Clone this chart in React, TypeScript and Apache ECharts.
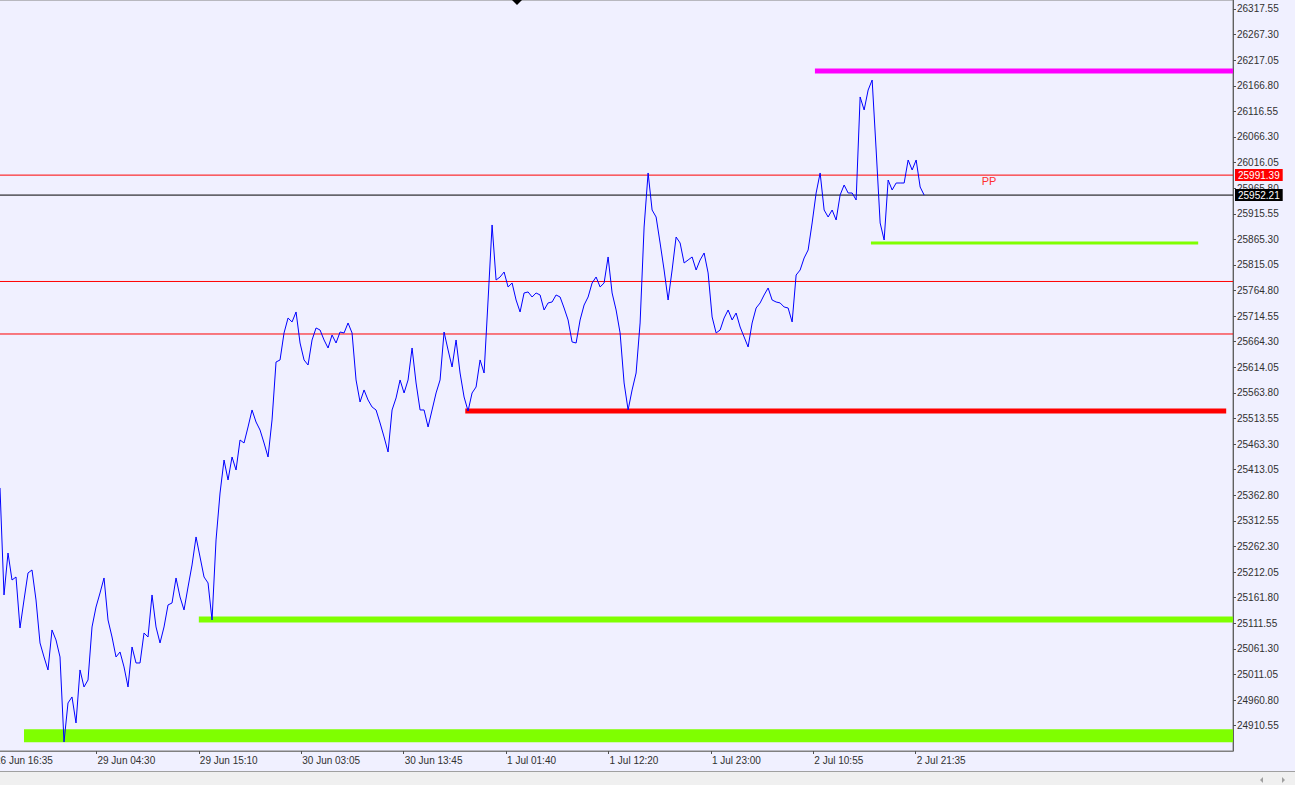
import React, { useEffect, useRef } from "react";
import * as echarts from "echarts";

// Close prices, one sample every 5 bars, starting at bar FIRST_BAR
const PRICES = [
  25377.2, 25167.1, 25249.5, 25196.5, 25202.4, 25102.3, 25157.3, 25210.3, 25216.2, 25157.3,
  25072.9, 25045.4, 25019.9, 25098.4, 25078.8, 25045.4, 24878.5, 24955.1, 24966.9, 24915.8,
  25019.9, 24986.5, 25000.2, 25104.3, 25143.5, 25171.0, 25200.5, 25118.0, 25084.6, 25045.4,
  25055.2, 25025.8, 24986.5, 25065.0, 25033.6, 25033.6, 25092.5, 25084.6, 25167.1, 25104.3,
  25072.9, 25104.3, 25147.5, 25151.4, 25200.5, 25163.2, 25137.7, 25182.8, 25226.0, 25281.0,
  25241.7, 25202.4, 25190.7, 25118.0, 25275.1, 25367.3, 25432.1, 25392.9, 25438.0, 25412.5,
  25471.4, 25465.5, 25496.9, 25530.3, 25506.7, 25491.0, 25465.5, 25438.0, 25510.7, 25624.5,
  25628.5, 25681.5, 25710.9, 25703.1, 25722.7, 25661.8, 25628.5, 25618.6, 25667.7, 25691.3,
  25687.3, 25667.7, 25652.0, 25677.5, 25661.8, 25683.4, 25681.5, 25701.1, 25681.5, 25589.2,
  25546.0, 25569.6, 25549.9, 25536.2, 25530.3, 25504.8, 25477.3, 25447.8, 25530.3, 25553.9,
  25589.2, 25563.7, 25589.2, 25652.0, 25583.3, 25530.3, 25530.3, 25496.9, 25530.3, 25563.7,
  25589.2, 25683.4, 25648.1, 25614.7, 25667.7, 25602.9, 25555.8, 25528.3, 25563.7, 25575.4,
  25628.5, 25602.9, 25746.2, 25893.5, 25785.5, 25791.4, 25801.2, 25771.8, 25779.6, 25746.2,
  25722.7, 25760.0, 25762.0, 25752.1, 25760.0, 25756.1, 25726.6, 25740.4, 25742.3, 25756.1,
  25752.1, 25730.5, 25707.0, 25663.8, 25661.8, 25707.0, 25736.4, 25752.1, 25779.6, 25791.4,
  25771.8, 25779.6, 25830.7, 25760.0, 25726.6, 25681.5, 25583.3, 25530.3, 25569.6, 25602.9,
  25701.1, 25889.5, 25995.6, 25922.9, 25909.2, 25858.1, 25805.1, 25746.2, 25805.1, 25869.9,
  25858.1, 25818.9, 25824.8, 25830.7, 25805.1, 25824.8, 25838.5, 25799.3, 25712.9, 25681.5,
  25687.3, 25710.9, 25726.6, 25707.0, 25720.7, 25693.2, 25673.6, 25654.0, 25701.1, 25730.5,
  25740.4, 25756.1, 25769.8, 25746.2, 25742.3, 25740.4, 25732.5, 25730.5, 25703.1, 25795.3,
  25805.1, 25828.7, 25844.4, 25897.4, 25956.3, 25995.6, 25922.9, 25909.2, 25922.9, 25903.3,
  25952.4, 25972.0, 25956.3, 25956.3, 25942.6, 26144.8, 26119.3, 26158.5, 26178.1, 26040.7,
  25897.4, 25864.0, 25981.8, 25962.2, 25975.9, 25975.9, 25975.9, 26021.1, 26001.5, 26021.1,
  25968.1, 25952.21,
];
const FIRST_BAR = 7.5;
const BAR_STEP = 5;

const X_TICK_BARS = [0, 128, 256, 384, 512, 640, 768, 896, 1024, 1152];
const X_TICK_LABELS = [
  "26 Jun 16:35", "29 Jun 04:30", "29 Jun 15:10", "30 Jun 03:05", "30 Jun 13:45",
  "1 Jul 01:40", "1 Jul 12:20", "1 Jul 23:00", "2 Jul 10:55", "2 Jul 21:35",
];
const X_MIN = 0;
const X_MAX = 1548.5;

const Y_TICKS = [
  24910.55, 24960.8, 25011.05, 25061.3, 25111.55, 25161.8, 25212.05, 25262.3, 25312.55, 25362.8,
  25413.05, 25463.3, 25513.55, 25563.8, 25614.05, 25664.3, 25714.55, 25764.8, 25815.05, 25865.3,
  25915.55, 25965.8, 26016.05, 26066.3, 26116.55, 26166.8, 26217.05, 26267.3, 26317.55,
];
const Y_MIN = 24860.8;
const Y_MAX = 26335.2;

// Pivot / price lines
const PIVOT = 25991.39;
const S1 = 25782.6;
const S2 = 25679.5;
const BID = 25952.21;
const PP_BAR = 1233.75;
const PP_PRICE = 25980;

// Support / resistance segments
const LEVEL_PRICES = [26195.8, 25858.1, 25528.3, 25119.0, 24890.7];
const LEVEL_FROM = [1026, 1096, 589, 256, 37.5];
const LEVEL_TO = [1548.5, 1505, 1540, 1548.5, 1548.5];
const LEVEL_COLORS = ["#FF00FF", "#7FFF00", "#FF0000", "#7FFF00", "#7FFF00"];
const LEVEL_WIDTHS = [5, 3, 5, 6, 13];

const FONT = '"Liberation Sans", Arial, sans-serif';

function hLine(price: number, color: string, z: number, boxLabel: boolean) {
  return {
    type: "line",
    data: [
      [X_MIN, price],
      [X_MAX, price],
    ],
    symbol: "none",
    silent: true,
    z,
    lineStyle: { color, width: 1 },
    endLabel: boxLabel
      ? {
          show: true,
          distance: 2,
          formatter: price.toFixed(2),
          color: "#FFFFFF",
          backgroundColor: color,
          padding: [1, 3, 1, 3],
          fontSize: 10,
          fontFamily: FONT,
        }
      : { show: false },
  };
}

export default function App() {
  const ref = useRef<HTMLDivElement>(null);
  useEffect(() => {
    if (!ref.current) return;
    const chart = echarts.init(ref.current, undefined, { renderer: "svg" });
    const levelSeries = LEVEL_PRICES.map((p, i) => ({
      type: "line",
      data: [
        [LEVEL_FROM[i], p],
        [LEVEL_TO[i], p],
      ],
      symbol: "none",
      silent: true,
      z: 1,
      lineStyle: { color: LEVEL_COLORS[i], width: LEVEL_WIDTHS[i], cap: "butt" },
    }));
    chart.setOption({
      animation: false,
      backgroundColor: "#F0F0FF",
      grid: {
        left: -6,
        top: 0,
        width: 1239,
        height: 751,
        outerBoundsMode: "none",
        containLabel: false,
        show: true,
        borderColor: "#808080",
        borderWidth: 1,
        backgroundColor: "transparent",
      },
      xAxis: {
        type: "value",
        min: X_MIN,
        max: X_MAX,
        axisLine: { show: true, onZero: false, lineStyle: { color: "#808080", width: 1 } },
        axisTick: { show: true, customValues: X_TICK_BARS, length: 3, lineStyle: { color: "#505050" } },
        axisLabel: {
          customValues: X_TICK_BARS,
          formatter: (v: number) => {
            const i = X_TICK_BARS.indexOf(Math.round(v));
            return i >= 0 ? X_TICK_LABELS[i] : "";
          },
          align: "left",
          margin: 4,
          color: "#303030",
          fontSize: 10,
          fontFamily: FONT,
          padding: [0, 0, 0, 1],
        },
        splitLine: { show: false },
      },
      yAxis: {
        type: "value",
        position: "right",
        min: Y_MIN,
        max: Y_MAX,
        axisLine: { show: true, onZero: false, lineStyle: { color: "#606060", width: 1 } },
        axisTick: { show: true, customValues: Y_TICKS, length: 3, inside: false, lineStyle: { color: "#505050" } },
        axisLabel: {
          customValues: Y_TICKS,
          formatter: (v: number) => v.toFixed(2),
          margin: 4,
          color: "#303030",
          fontSize: 10,
          fontFamily: FONT,
        },
        splitLine: { show: false },
      },
      series: [
        ...levelSeries,
        hLine(S1, "#FF0000", 2, false),
        hLine(S2, "#FF0000", 2, false),
        hLine(PIVOT, "#FF0000", 2, true),
        hLine(BID, "#000000", 2, true),
        {
          type: "line",
          data: PRICES.map((p, i) => [FIRST_BAR + i * BAR_STEP, p]),
          symbol: "none",
          silent: true,
          z: 3,
          lineStyle: { color: "#0000FF", width: 1 },
          markPoint: {
            silent: true,
            animation: false,
            data: [
              {
                coord: [PP_BAR, PP_PRICE],
                symbol: "rect",
                symbolSize: 1,
                itemStyle: { color: "transparent" },
                label: {
                  show: true,
                  position: "right",
                  distance: 0,
                  formatter: "PP",
                  color: "#FF3030",
                  fontSize: 11,
                  fontFamily: FONT,
                },
              },
            ],
          },
        },
      ],
      graphic: [
        {
          type: "polygon",
          shape: { points: [[512, 0], [522, 0], [517, 5]] },
          style: { fill: "#000000" },
          silent: true,
        },
        {
          type: "rect",
          shape: { x: 0, y: 771, width: 1295, height: 14 },
          style: { fill: "#F0F0F0" },
          silent: true,
        },
        {
          type: "line",
          shape: { x1: 0, y1: 771.5, x2: 1295, y2: 771.5 },
          style: { stroke: "#A0A0A0", lineWidth: 1 },
          silent: true,
        },
        {
          type: "polygon",
          shape: { points: [[1263, 777], [1263, 783], [1260, 780]] },
          style: { fill: "#A0A0A0" },
          silent: true,
        },
        {
          type: "polygon",
          shape: { points: [[1282, 777], [1282, 783], [1285, 780]] },
          style: { fill: "#A0A0A0" },
          silent: true,
        },
      ],
    });
    return () => chart.dispose();
  }, []);
  return (
    <div
      ref={ref}
      style={{ position: "fixed", left: 0, top: 0, width: 1295, height: 785, background: "#F0F0FF" }}
    />
  );
}
